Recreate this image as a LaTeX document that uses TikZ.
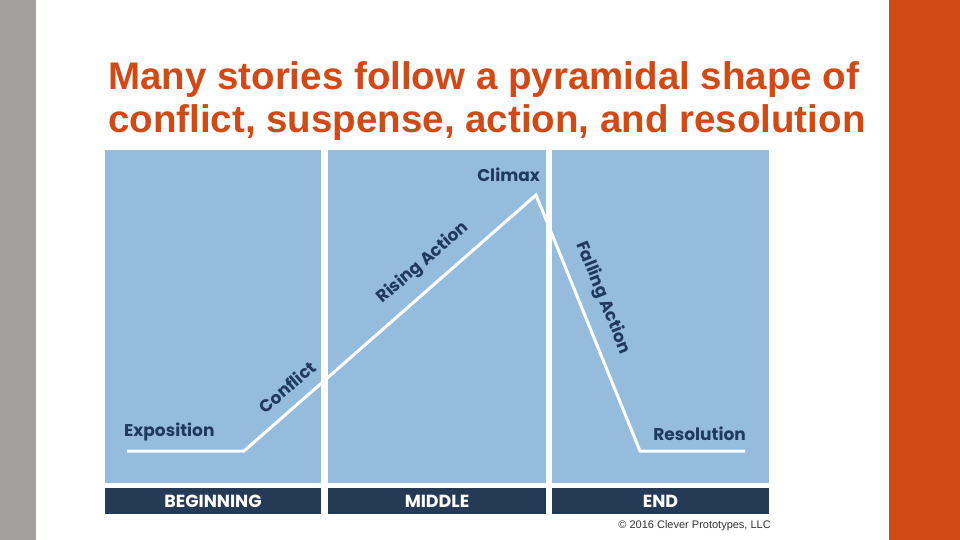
\documentclass[tikz,border=0pt]{standalone}
\usepackage{fontspec}
\setmainfont{Liberation Sans}
\newfontfamily\labelfont{Poppins}
\usetikzlibrary{positioning}

\definecolor{slideorange}{HTML}{D04A18}
\definecolor{sidegray}{HTML}{A4A09F}
\definecolor{panelblue}{HTML}{95BCDC}
\definecolor{barnavy}{HTML}{243A55}
\definecolor{labelnavy}{HTML}{1F3A5C}

\begin{document}
\begin{tikzpicture}[
  x=1pt, y=-1pt,
  panel/.style={fill=panelblue, anchor=north west, inner sep=0pt, minimum height=333pt},
  bar/.style={fill=barnavy, text=white, inner sep=0pt, minimum height=26pt, font=\labelfont\bfseries\fontsize{17.5}{19}\selectfont},
  stage/.style={text=labelnavy, inner sep=0pt, font=\labelfont\bfseries\fontsize{17}{19}\selectfont},
  title/.style={text=slideorange, anchor=base west, inner sep=0pt, font=\bfseries\fontsize{38.5}{44}\selectfont},
  plot/.style={white, line width=3pt, line join=miter}
]
\useasboundingbox (0,0) rectangle (960,540);
\fill[white] (0,0) rectangle (960,540);
\fill[sidegray] (0,0) rectangle (36,540);
\fill[slideorange] (889,0) rectangle (960,540);

% title
\node[title] (line1) at (108,90) {Many stories follow a pyramidal shape of};
\node[title] (line2) at (108,133) {conflict, suspense, action, and resolution};

% panels and bars
\node[panel, minimum width=216pt] (begin) at (105,150) {};
\node[panel, minimum width=218pt] (middle) at (328,150) {};
\node[panel, minimum width=217pt] (end) at (552,150) {};
\node[bar, minimum width=216pt] (beginbar) at (213,501) {BEGINNING};
\node[bar, minimum width=218pt] (middlebar) at (437,501) {MIDDLE};
\node[bar, minimum width=217pt] (endbar) at (660.5,501) {END};

% story line
\coordinate (expo) at (127,451);
\coordinate (conflict) at (244,451);
\coordinate (climax) at (536,195);
\coordinate (resol) at (640,451);
\coordinate (finish) at (745,451);
\draw[plot] (expo) -- (conflict) -- (climax) -- (resol) -- (finish);

% labels
\node[stage, anchor=west] (expolabel) at (124,432) {Exposition};
\node[stage, rotate=41] (conflictlabel) at (287,387) {Conflict};
\node[stage, rotate=41] (risinglabel) at (423,263) {Rising Action};
\node[stage, anchor=east] (climaxlabel) at (540,175) {Climax};
\node[stage, rotate=-68] (fallinglabel) at (603,298) {Falling Action};
\node[stage, anchor=east] (resollabel) at (746,434) {Resolution};

\node[anchor=east, inner sep=0pt, text=black!80, font=\fontsize{11}{13}\selectfont] (copyright) at (771,526) {© 2016 Clever Prototypes, LLC};
\end{tikzpicture}
\end{document}
